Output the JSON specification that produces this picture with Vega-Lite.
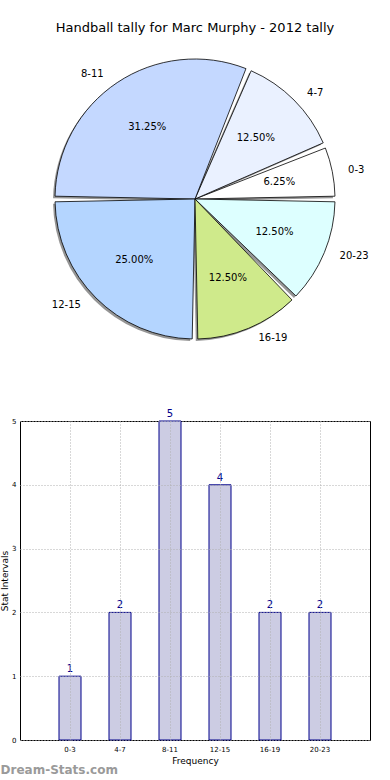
{
  "$schema": "https://vega.github.io/schema/vega-lite/v6.json",
  "padding": {"left": 0, "top": 22, "right": 2, "bottom": 2},
  "bounds": "flush",
  "spacing": 73,
  "config": {"font": "DejaVu Sans", "view": {"stroke": null}},
  "datasets": {
    "tally": [
      {"bin": "0-3", "lo": 0, "count": 1, "pct": "6.25%", "side": "right"},
      {"bin": "4-7", "lo": 4, "count": 2, "pct": "12.50%", "side": "right"},
      {"bin": "8-11", "lo": 8, "count": 5, "pct": "31.25%", "side": "left"},
      {"bin": "12-15", "lo": 12, "count": 4, "pct": "25.00%", "side": "left"},
      {"bin": "16-19", "lo": 16, "count": 2, "pct": "12.50%", "side": "right"},
      {"bin": "20-23", "lo": 20, "count": 2, "pct": "12.50%", "side": "right"}
    ]
  },
  "vconcat": [
    {
      "title": {"text": "Handball tally for Marc Murphy - 2012 tally", "fontSize": 13, "fontWeight": "normal", "color": "black", "offset": 15},
      "width": 350,
      "height": 298,
      "data": {"name": "tally"},
      "encoding": {
        "theta": {"field": "count", "type": "quantitative", "stack": true, "scale": {"range": [1.5708, 7.854]}},
        "order": {"field": "lo", "sort": "descending"}
      },
      "layer": [
        {"mark": {"type": "arc", "radius": 140, "padAngle": 0.04, "fill": "#7a7a7a", "opacity": 0.8, "xOffset": -2, "yOffset": 2}},
        {
          "mark": {"type": "arc", "radius": 140, "padAngle": 0.04, "stroke": "black", "strokeWidth": 0.8},
          "encoding": {
            "color": {
              "field": "bin", "type": "nominal", "legend": null,
              "scale": {
                "domain": ["0-3", "4-7", "8-11", "12-15", "16-19", "20-23"],
                "range": ["#ffffff", "#eaf1ff", "#c4d8ff", "#b4d5ff", "#cfea8b", "#ddffff"]
              }
            }
          }
        },
        {"mark": {"type": "text", "radius": 86, "fontSize": 10, "color": "black"}, "encoding": {"text": {"field": "pct"}}},
        {
          "mark": {"type": "text", "radius": 150, "fontSize": 10, "color": "black", "align": "left", "dx": 6},
          "encoding": {"text": {"condition": {"test": "datum.side == 'right'", "field": "bin"}, "value": ""}}
        },
        {
          "mark": {"type": "text", "radius": 150, "fontSize": 10, "color": "black", "align": "right", "dx": -8},
          "encoding": {"text": {"condition": {"test": "datum.side == 'left'", "field": "bin"}, "value": ""}}
        }
      ]
    },
    {
      "width": 350,
      "height": 319,
      "data": {"name": "tally"},
      "view": {"stroke": "black", "strokeWidth": 1},
      "title": {"text": "Dream-Stats.com", "orient": "bottom", "anchor": "start", "frame": "bounds", "fontSize": 12, "fontWeight": "bold", "color": "#9a9a9a", "offset": 0},
      "encoding": {
        "x": {
          "field": "bin", "type": "nominal",
          "sort": ["0-3", "4-7", "8-11", "12-15", "16-19", "20-23"],
          "scale": {"paddingInner": 0.56, "paddingOuter": 0.78},
          "axis": {
            "labelAngle": 0, "labelFontSize": 7, "labelColor": "black", "labelPadding": 5,
            "ticks": false, "domain": false,
            "grid": true, "gridColor": "#b0b0b0", "gridDash": [1, 2], "gridWidth": 1, "zindex": 1,
            "title": "Frequency", "titleFontSize": 9, "titleFontWeight": "normal", "titleColor": "black", "titlePadding": 4
          }
        }
      },
      "layer": [
        {
          "mark": {"type": "bar", "fill": "#cccce3", "stroke": "#00008b", "strokeWidth": 1},
          "encoding": {
            "y": {
              "field": "count", "type": "quantitative",
              "scale": {"domain": [0, 5], "nice": false},
              "axis": {
                "values": [0, 1, 2, 3, 4, 5], "format": "d",
                "labelFontSize": 7, "labelColor": "black", "labelPadding": 4,
                "ticks": false, "domain": false,
                "grid": true, "gridColor": "#b0b0b0", "gridDash": [1, 2], "gridWidth": 1, "zindex": 1,
                "title": "Stat Intervals", "titleFontSize": 9, "titleFontWeight": "normal", "titleColor": "black", "titlePadding": 2
              }
            }
          }
        },
        {
          "mark": {"type": "text", "dy": -7, "color": "#00008b", "fontSize": 10},
          "encoding": {
            "y": {"field": "count", "type": "quantitative"},
            "text": {"field": "count", "type": "quantitative"}
          }
        }
      ]
    }
  ]
}
